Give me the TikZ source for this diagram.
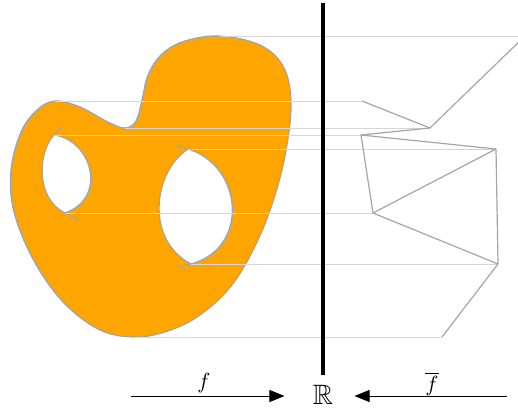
\documentclass[tikz,border=0pt]{standalone}
\usepackage{amssymb}
\usetikzlibrary{arrows.meta}
\definecolor{shapeorange}{RGB}{255,165,0}
\definecolor{outlinegray}{RGB}{160,164,172}
\definecolor{levelgray}{RGB}{214,214,214}
\definecolor{reebgray}{RGB}{165,165,165}
\tikzset{
  outline/.style={draw=outlinegray, line width=0.6pt},
  levelline/.style={draw=levelgray, line width=0.5pt},
  reebedge/.style={draw=reebgray, line width=0.6pt, line join=round},
  axisbar/.style={draw=black, line width=2pt},
  maparrow/.style={draw=black, line width=0.4pt, -{Triangle[length=7.5pt,width=6pt]}},
  lbl/.style={inner sep=0pt, font=\fontsize{10.5}{12}\selectfont}
}
\begin{document}
\begin{tikzpicture}[x=0.5pt,y=-0.5pt]
\useasboundingbox (0,0) rectangle (518,412);
\clip (0,0) rectangle (518,412);
% shape critical points
\coordinate (s1) at (220,36);
\coordinate (s2) at (55,101);
\coordinate (s3) at (125,128);
\coordinate (s4) at (54,135);
\coordinate (s5) at (188,149);
\coordinate (s6) at (65,213);
\coordinate (s7) at (191,264);
\coordinate (s8) at (135,337);
% Reeb graph vertices
\coordinate (g0) at (525,36);
\coordinate (g1) at (362,101);
\coordinate (g2) at (430,128);
\coordinate (g3) at (361,135);
\coordinate (g4) at (496,149);
\coordinate (g5) at (373,213);
\coordinate (g6) at (498,264);
\coordinate (g7) at (442,337);
% hole tails
\coordinate (t1a) at (62,126);
\coordinate (t1b) at (77,219);
\coordinate (t2a) at (178,146);
\coordinate (t2b) at (179,267);
% the shape
\path[fill=shapeorange, outline] plot[smooth cycle, tension=0.6] coordinates {
 (220,36) (260,45) (283,66) (291,100) (287,145) (276,192) (258,240)
 (232,285) (200,315) (168,331) (135,337) (100,330) (64,303) (34,261) (14,212)
 (11,170) (21,132) (37,110) (55,101) (80,107) (108,122) (125,128)
 (136,121) (142,100) (148,75) (162,54) (185,41)};
% holes
\fill[white] (s4) .. controls (38,152) and (35,198) .. (s6)
   .. controls (108,198) and (92,140) .. (s4) -- cycle;
\fill[white] (s5) .. controls (153,172) and (145,240) .. (s7)
   .. controls (250,248) and (243,166) .. (s5) -- cycle;
\draw[outline] (t1a) -- (s4) .. controls (38,152) and (35,198) .. (s6) -- (t1b);
\draw[outline] (s4) .. controls (92,140) and (108,198) .. (s6);
\draw[outline] (t2a) -- (s5) .. controls (243,166) and (250,248) .. (s7) -- (t2b);
\draw[outline] (s5) .. controls (153,172) and (145,240) .. (s7);
% level lines
\draw[levelline] (s1) -- (g0);
\draw[levelline] (s2) -- (g1);
\draw[levelline] (s3) -- (g2);
\draw[levelline] (s4) -- (g3);
\draw[levelline] (s5) -- (g4);
\draw[levelline] (s6) -- (g5);
\draw[levelline] (s7) -- (g6);
\draw[levelline] (s8) -- (g7);
% Reeb graph
\draw[reebedge] (g0) -- (g2);
\draw[reebedge] (g1) -- (g2);
\draw[reebedge] (g2) -- (g3);
\draw[reebedge] (g3) -- (g4);
\draw[reebedge] (g3) -- (g5);
\draw[reebedge] (g5) -- (g4);
\draw[reebedge] (g4) -- (g6);
\draw[reebedge] (g5) -- (g6);
\draw[reebedge] (g6) -- (g7);
% axis
\coordinate (bartop) at (323,3);
\coordinate (barbot) at (323,375);
\draw[axisbar] (bartop) -- (barbot);
% bottom maps
\node[inner sep=0pt, font=\fontsize{14}{16}\selectfont] (R) at (323,395) {$\mathbb{R}$};
\coordinate (fl) at (131,396);
\coordinate (fr) at (507,396);
\draw[maparrow, shorten >=14pt] (fl) -- (fl -| R.west);
\draw[maparrow, shorten >=10.5pt] (fr) -- (fr -| R.east);
\node[lbl] (flab) at (204,383) {$f$};
\node[lbl] (fbarlab) at (432,384) {$\overline{f}$};
\end{tikzpicture}
\end{document}
